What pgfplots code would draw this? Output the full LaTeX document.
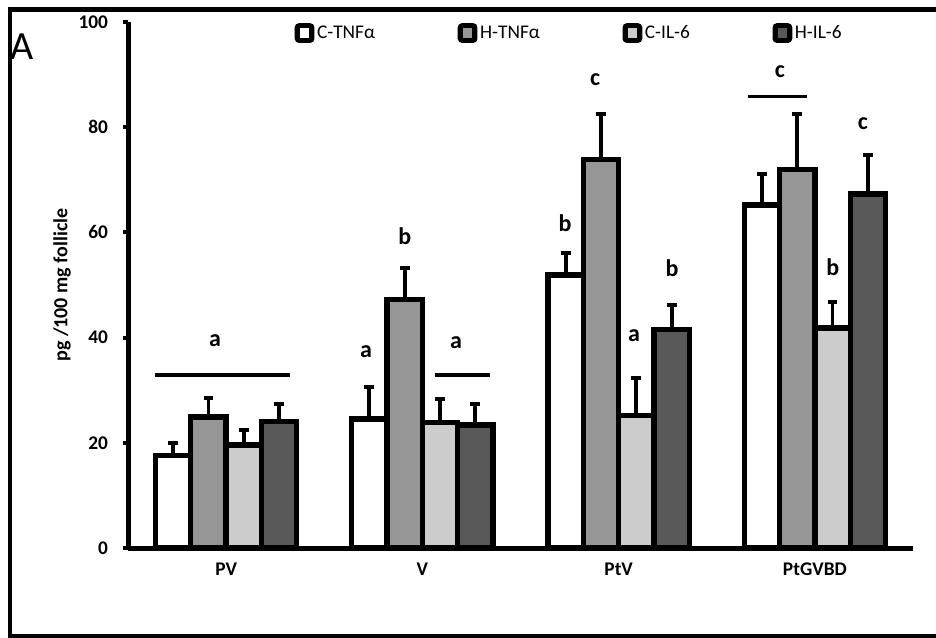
\documentclass[border=0pt]{standalone}
\usepackage{pgfplots}
\pgfplotsset{compat=1.18}
\usepackage{pgfplotstable}
\usepackage{fontspec}
\setmainfont{Carlito}
\definecolor{htnf}{HTML}{969696}
\definecolor{cil}{HTML}{CCCCCC}
\definecolor{hil}{HTML}{595959}
\pgfplotstableread{
x y e
0.5 17.6 2.3
1.5 24.5 6.1
2.5 51.9 4.2
3.5 65.2 5.9
}\ctnf
\pgfplotstableread{
x y e
0.5 24.9 3.6
1.5 47.3 5.9
2.5 73.9 8.6
3.5 72.0 10.5
}\htnfd
\pgfplotstableread{
x y e
0.5 19.6 2.85
1.5 23.9 4.4
2.5 25.2 7.1
3.5 41.8 4.9
}\cild
\pgfplotstableread{
x y e
0.5 24.1 3.3
1.5 23.4 4.0
2.5 41.5 4.7
3.5 67.3 7.4
}\hild
\pgfplotsset{
  legsq/.style={legend image code/.code={%
    \fill[black,rounded corners=1.5pt] (0pt,-5.4pt) rectangle (10.8pt,5.4pt);
    \fill[#1] (3.9pt,-1.5pt) rectangle (6.9pt,1.5pt);}},
  mybar/.style={ybar, bar width=0.18, bar shift=0, draw=black, line width=4pt, fill=#1},
}
\begin{document}
\begin{tikzpicture}
\useasboundingbox (0,0) rectangle (702pt,477.75pt);
\clip (0,0) rectangle (702pt,477.75pt);
\draw[line width=3.6pt] (712pt,470.6pt) -- (7.5pt,470.6pt) -- (7.5pt,0.75pt) -- (712pt,0.75pt);
\node[font=\fontsize{30}{32}\selectfont, inner sep=0pt] at (16.5pt,442.9pt) {A};
\begin{axis}[
  at={(96pt,66.75pt)}, anchor=south west,
  scale only axis, width=588.75pt, height=394.5pt,
  xmin=0, xmax=4, ymin=0, ymax=100,
  axis x line=bottom, axis y line=left,
  axis line style={-, line width=3.75pt},
  /pgf/number format/assume math mode=true,
  ytick={0,20,...,100},
  xtick={0.5,1.5,2.5,3.5},
  xticklabels={PV,V,PtV,PtGVBD},
  major x tick style={draw=none},
  extra x ticks={0,1,2,3,4},
  extra x tick labels={},
  extra x tick style={major tick length=4pt, tick style={line width=3pt,black}},
  tick align=outside,
  major tick length=4pt,
  tick style={line width=3pt, black},
  ticklabel style={font=\bfseries\fontsize{14.5}{16}\selectfont},
  yticklabel style={xshift=-7.5pt},
  xticklabel style={yshift=-3.5pt},
  ylabel={pg /100 mg follicle},
  ylabel style={font=\bfseries\fontsize{15}{17}\selectfont, at={(axis description cs:-0.0841,0.5)}, anchor=center},
  legend columns=4,
  legend style={at={(rel axis cs:0.212,0.979)}, anchor=west, draw=none, fill=none,
    inner sep=0pt, font=\fontsize{14.5}{16}\selectfont,
    nodes={inner xsep=2pt, inner ysep=0pt},
    /tikz/every even column/.append style={column sep=60pt}},
  error bars/y dir=plus, error bars/y explicit,
  error bars/error mark=|,
  error bars/error bar style={line width=2.9pt, black, solid},
  error bars/error mark options={line width=2.9pt, mark size=3.7pt, black, solid},
  clip=false,
]
\addplot[mybar=white, legsq=white, error bars/.cd, y dir=plus, y explicit] table[x expr=\thisrow{x}-0.27,y=y,y error=e] {\ctnf};
\addlegendentry{C-TNFα}
\addplot[mybar=htnf, legsq=htnf, error bars/.cd, y dir=plus, y explicit] table[x expr=\thisrow{x}-0.09,y=y,y error=e] {\htnfd};
\addlegendentry{H-TNFα}
\addplot[mybar=cil, legsq=cil, error bars/.cd, y dir=plus, y explicit] table[x expr=\thisrow{x}+0.09,y=y,y error=e] {\cild};
\addlegendentry{C-IL-6}
\addplot[mybar=hil, legsq=hil, error bars/.cd, y dir=plus, y explicit] table[x expr=\thisrow{x}+0.27,y=y,y error=e] {\hild};
\addlegendentry{H-IL-6}
% significance annotations
\begin{scope}[line width=2.4pt]
\draw (axis cs:0.138,32.9) -- (axis cs:0.825,32.9);
\draw (axis cs:1.564,32.9) -- (axis cs:1.845,32.9);
\draw (axis cs:3.159,85.9) -- (axis cs:3.46,85.9);
\end{scope}
\begin{scope}[every node/.style={font=\bfseries\fontsize{18}{20}\selectfont, inner sep=0pt}]
\node at (axis cs:0.443,39.4) {a};
\node at (axis cs:1.213,37.3) {a};
\node at (axis cs:1.41,59.3) {b};
\node at (axis cs:1.671,39.0) {a};
\node at (axis cs:2.227,61.8) {b};
\node at (axis cs:2.38,89.0) {c};
\node at (axis cs:2.578,40.3) {a};
\node at (axis cs:2.772,53.2) {b};
\node at (axis cs:3.322,90.5) {c};
\node at (axis cs:3.592,53.4) {b};
\node at (axis cs:3.745,80.6) {c};
\end{scope}
\end{axis}
\end{tikzpicture}
\end{document}
